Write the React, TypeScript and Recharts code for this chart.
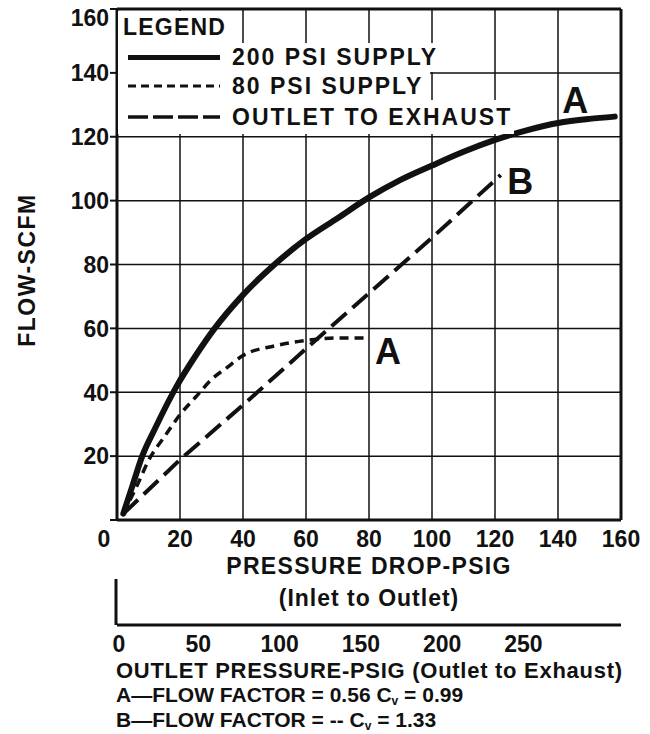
import React from 'react';
import {
  ComposedChart,
  Line,
  XAxis,
  YAxis,
  CartesianGrid,
  Legend,
  ReferenceDot,
  ReferenceLine,
  Label,
} from 'recharts';

// 200 PSI supply (solid heavy curve), x = pressure drop psig
const supply200X = [2, 5, 8, 12, 19, 25, 31, 40, 50, 60, 70, 80, 90, 100, 110, 120, 130, 140, 150, 158];
const supply200Y = [2, 11, 20, 28.5, 42, 51.5, 60, 70.5, 80, 88, 94.5, 101, 106.5, 111, 115.3, 119, 122, 124.3, 125.6, 126.3];

// 80 PSI supply (short dashes), x = pressure drop psig
const supply80X = [2, 6, 10.5, 15, 20, 25, 30, 35, 40, 50, 60, 70, 80];
const supply80Y = [2, 10, 19.5, 26, 33, 38.5, 44, 47.8, 51.5, 54.5, 56.2, 57, 57];

// outlet to exhaust (long dashes), x = outlet pressure psig (lower scale)
const exhaustX = [4, 39, 77.5, 116, 155, 194, 236];
const exhaustY = [2, 19, 36, 53.5, 71, 88.5, 108];

const seriesNames = ['200 PSI SUPPLY', '80 PSI SUPPLY', 'OUTLET TO EXHAUST'];

const pressureTicks = [0, 20, 40, 60, 80, 100, 120, 140, 160];
const flowTicks = [0, 20, 40, 60, 80, 100, 120, 140, 160];
const outletTicks = [0, 50, 100, 150, 200, 250];

// curve end letters
const letterText = ['A', 'B', 'A'];
const letterX = [145.5, 128, 86];
const letterY = [131.5, 106, 53];

const FONT = '"Liberation Sans", Arial, Helvetica, sans-serif';
const INK = '#111';

const toPoints = (xs: number[], ys: number[]) => xs.map((x, i) => ({ x, y: ys[i] }));

const lineStyles = [
  { strokeWidth: 6, dash: undefined as string | undefined, legendDash: undefined as string | undefined, legendWidth: 5 },
  { strokeWidth: 3.5, dash: '9 6', legendDash: '8 5', legendWidth: 3 },
  { strokeWidth: 4, dash: '20 8', legendDash: '20 5', legendWidth: 3.5 },
];

const textProps = {
  fill: INK,
  fontFamily: FONT,
  fontWeight: 700,
  fontSize: 23,
};

const PressureTick = (props: any) => {
  const { x, y, payload } = props;
  const shift = payload.value === 0 ? -13 : 0;
  return (
    <text x={x + shift} y={y + 11} dy="0.71em" textAnchor="middle" {...textProps}>
      {payload.value}
    </text>
  );
};

const OutletTick = (props: any) => {
  const { x, y, payload } = props;
  const shift = payload.value === 0 ? 2 : 0;
  return (
    <text x={x + shift} y={y + 11} dy="0.71em" textAnchor="middle" {...textProps}>
      {payload.value}
    </text>
  );
};

const FlowTick = (props: any) => {
  const { x, y, payload } = props;
  if (payload.value === 0) return null;
  const shift = payload.value === 160 ? 9 : 0;
  return (
    <text x={x - 1} y={y + shift} dy="0.36em" textAnchor="end" {...textProps}>
      {payload.value}
    </text>
  );
};

const PressureLabel = (props: any) => {
  const vb = props.viewBox;
  const cx = vb.x + vb.width / 2;
  return (
    <g>
      <text x={cx} y={vb.y + 54} textAnchor="middle" letterSpacing={1.3} {...textProps}>
        PRESSURE DROP-PSIG
      </text>
      <text x={cx} y={vb.y + 86} textAnchor="middle" letterSpacing={1} {...textProps}>
        (Inlet to Outlet)
      </text>
      <line x1={vb.x - 1} x2={vb.x - 1} y1={vb.y + 59} y2={vb.y + vb.height} stroke={INK} strokeWidth={3} />
    </g>
  );
};

const OutletLabel = (props: any) => {
  const vb = props.viewBox;
  const left = vb.x - 1;
  return (
    <g>
      <text x={left} y={vb.y + 53} textLength={506} lengthAdjust="spacing" {...textProps} fontSize={22}>
        OUTLET PRESSURE-PSIG (Outlet to Exhaust)
      </text>
      <text x={left} y={vb.y + 77} {...textProps} fontSize={21}>
        A—FLOW FACTOR = 0.56 C<tspan fontSize={12} dy={3}>v</tspan><tspan dy={-3}> = 0.99</tspan>
      </text>
      <text x={left} y={vb.y + 102} {...textProps} fontSize={21}>
        B—FLOW FACTOR =  --  C<tspan fontSize={12} dy={3}>v</tspan><tspan dy={-3}> = 1.33</tspan>
      </text>
    </g>
  );
};

const FlowLabel = () => (
  <text x={0} y={0} transform="translate(35 270) rotate(-90)" textAnchor="middle"
    letterSpacing={1.5} {...textProps}>
    FLOW-SCFM
  </text>
);

// legend rows: white boxes that hide the grid behind them
const legendRows = [
  { top: 32, height: 29, width: 324 },
  { top: 61, height: 28, width: 312 },
  { top: 89, height: 34, width: 396 },
];

const LegendBox = () => (
  <div style={{ position: 'relative', width: 400, height: 124, fontFamily: FONT, fontWeight: 700, fontSize: 23, color: INK }}>
    <div style={{ position: 'absolute', left: 0, top: 0, width: 117, height: 32, background: '#fff', lineHeight: '32px', paddingLeft: 5, boxSizing: 'border-box', letterSpacing: 1.2 }}>
      LEGEND
    </div>
    {seriesNames.map((name, i) => {
      const row = legendRows[i];
      const st = lineStyles[i];
      return (
        <div key={name} style={{ position: 'absolute', left: 0, top: row.top, width: row.width, height: row.height, background: '#fff' }}>
          <svg width={100} height={row.height} style={{ position: 'absolute', left: 9, top: 0 }}>
            <line x1={1} x2={93} y1={row.height / 2} y2={row.height / 2} stroke={INK}
              strokeWidth={st.legendWidth} strokeDasharray={st.legendDash} />
          </svg>
          <div style={{ position: 'absolute', left: 114, top: 0, lineHeight: `${row.height}px`, whiteSpace: 'nowrap', letterSpacing: 2 }}>
            {name}
          </div>
        </div>
      );
    })}
  </div>
);

const LetterShape = (text: string) => (p: any) => (
  <text x={p.cx} y={p.cy} dy="0.36em" textAnchor="middle" {...textProps} fontSize={36}>
    {text}
  </text>
);

export default function App() {
  const series = [
    toPoints(supply200X, supply200Y),
    toPoints(supply80X, supply80Y),
    toPoints(exhaustX, exhaustY),
  ];

  return (
    <div style={{ position: 'absolute', left: 0, top: 0, width: 650, height: 734, background: '#fff' }}>
      <ComposedChart width={650} height={734} margin={{ top: 9, right: 29, bottom: 0, left: 0 }}>
        <CartesianGrid stroke={INK} strokeWidth={1.5} />
        <XAxis
          dataKey="x"
          type="number"
          domain={[0, 160]}
          ticks={pressureTicks}
          interval={0}
          height={105}
          tickSize={0}
          tickMargin={0}
          tickLine={false}
          allowDataOverflow
          axisLine={{ stroke: INK, strokeWidth: 3 }}
          tick={<PressureTick />}
        >
          <Label content={<PressureLabel />} />
        </XAxis>
        <XAxis
          xAxisId="outlet"
          dataKey="x"
          type="number"
          domain={[0, 310]}
          ticks={outletTicks}
          interval={0}
          height={109}
          tickSize={0}
          tickMargin={0}
          tickLine={false}
          allowDataOverflow
          axisLine={{ stroke: INK, strokeWidth: 3 }}
          tick={<OutletTick />}
        >
          <Label content={<OutletLabel />} />
        </XAxis>
        <YAxis
          type="number"
          domain={[0, 160]}
          ticks={flowTicks}
          interval={0}
          width={117}
          tickSize={7}
          tickMargin={0}
          tickLine={{ stroke: INK, strokeWidth: 2 }}
          axisLine={{ stroke: INK, strokeWidth: 3 }}
          tick={<FlowTick />}
        >
          <Label content={<FlowLabel />} />
        </YAxis>
        <ReferenceLine y={160} stroke={INK} strokeWidth={3} />
        <ReferenceLine x={160} stroke={INK} strokeWidth={3} />
        {series.map((pts, i) => (
          <Line
            key={seriesNames[i]}
            name={seriesNames[i]}
            data={pts}
            dataKey="y"
            xAxisId={i === 2 ? 'outlet' : 0}
            type={i === 2 ? 'linear' : 'monotone'}
            stroke={INK}
            strokeWidth={lineStyles[i].strokeWidth}
            strokeDasharray={lineStyles[i].dash}
            strokeLinecap={i === 0 ? 'round' : 'butt'}
            dot={false}
            activeDot={false}
            isAnimationActive={false}
          />
        ))}
        <Legend
          layout="vertical"
          align="center"
          verticalAlign="middle"
          content={<LegendBox />}
          wrapperStyle={{ left: 118, top: 11, width: 400, height: 124 }}
        />
        {letterText.map((t, i) => (
          <ReferenceDot key={i} x={letterX[i]} y={letterY[i]} r={0} shape={LetterShape(t)} />
        ))}
      </ComposedChart>
    </div>
  );
}
